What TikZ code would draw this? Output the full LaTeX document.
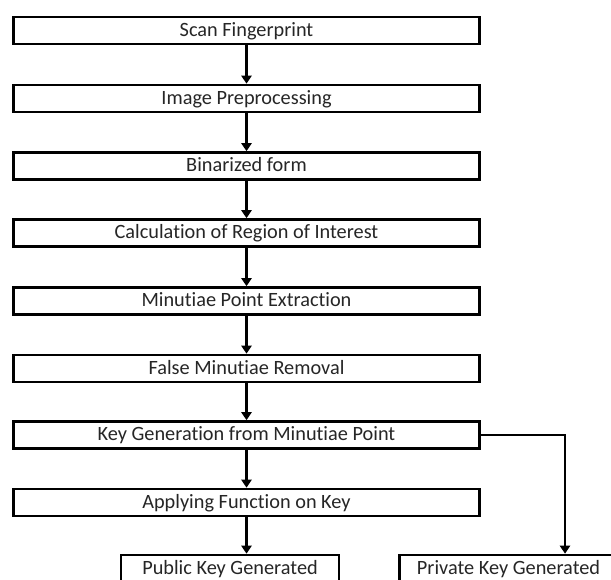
\documentclass[tikz,border=0pt]{standalone}
\usepackage{fontspec}
\setmainfont{Carlito}[Ligatures=NoCommon]
\usetikzlibrary{arrows.meta}
\begin{document}
\begin{tikzpicture}[x=1pt,y=-1pt,
 box/.style={draw=black, line width=2.6pt, minimum width=466pt, minimum height=27pt, inner sep=0pt, text height=14.5pt, text depth=3.5pt, font=\fontsize{20.3}{22}\selectfont, fill=white, text=black!85},
 keybox/.style={box, minimum width=218pt},
 arr/.style={-{Triangle[length=8pt,width=10pt]}, line width=2.6pt}]
\useasboundingbox (0,0) rectangle (611,579);
\clip (0,0) rectangle (611,579);
\fill[white] (0,0) rectangle (611,579);
\node[box] (n1) at (246.5,30.5) {Scan Fingerprint};
\node[box] (n2) at (246.5,98.5) {Image Preprocessing};
\node[box] (n3) at (246.5,166) {Binarized form};
\node[box] (n4) at (246.5,233) {Calculation of Region of Interest};
\node[box] (n5) at (246.5,301) {Minutiae Point Extraction};
\node[box] (n6) at (246.5,368.5) {False Minutiae Removal};
\node[box] (n7) at (246.5,435) {Key Generation from Minutiae Point};
\node[box] (n8) at (246.5,502.5) {Applying Function on Key};
\node[keybox] (pub) at (230,568.5) {Public Key Generated};
\node[keybox] (priv) at (508.5,568.5) {Private Key Generated};
\coordinate (turn) at (565,0);
\draw[arr] (n1.south) -- (n2.north);
\draw[arr] (n2.south) -- (n3.north);
\draw[arr] (n3.south) -- (n4.north);
\draw[arr] (n4.south) -- (n5.north);
\draw[arr] (n5.south) -- (n6.north);
\draw[arr] (n6.south) -- (n7.north);
\draw[arr] (n7.south) -- (n8.north);
\draw[arr] (n8.south) -- (n8.south |- pub.north);
\draw[arr] (n7.east) -| (turn |- priv.north);
\end{tikzpicture}
\end{document}
